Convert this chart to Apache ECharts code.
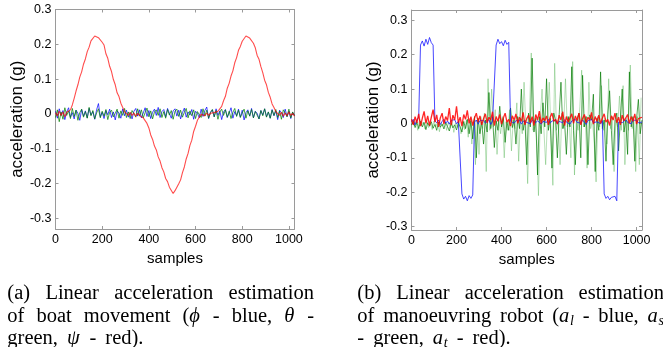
<!DOCTYPE html>
<html><head><meta charset="utf-8">
<script src="https://cdn.jsdelivr.net/npm/echarts@6/dist/echarts.min.js"></script>
<style>html,body{margin:0;padding:0;background:#fff}#c{width:663px;height:347px}</style>
</head><body><div id="c"></div>
<script>
// ---- data (values in g, one value every SAMPLE_STEP samples) ----
const SAMPLE_STEP = 8;
const RAW_OFFSET = 4;               // raw a_s samples sit between the filtered ones
const xTickValues = [0, 200, 400, 600, 800, 1000];
const yTickValues = [-0.3, -0.2, -0.1, 0, 0.1, 0.2, 0.3];

// (a) boat movement
const boatPhi = [ // blue
 .008,-.012,.015,-.004,.010,-.016,.006,.018,-.009,.004,
 -.014,.011,.002,-.018,.013,-.006,.009,-.011,.016,-.003,
 .007,-.015,.012,.030,-.008,.005,-.013,.010,-.002,.014,
 -.010,.006,-.017,.009,.003,-.012,.015,-.005,.011,-.009,
 .004,-.014,.008,.016,-.006,.012,-.011,.003,.018,-.007,
 .010,-.013,.005,.014,-.004,.019,-.010,.007,.013,-.008,
 .016,.002,-.012,.009,.015,-.006,.011,-.014,.004,.017,
 -.009,.006,-.003,.013,-.015,.008,.002,-.011,.014,-.007,
 .010,.020,-.013,.005,.012,-.008,.015,-.004,.009,-.016,
 .006,.013,-.010,.003,.018,-.012,.007,-.005,.014,-.009,
 .011,-.017,.004,.012,-.006,.016,-.011,.008,.002,-.014,
 .010,-.003,.015,-.008,.006,-.012,.013,-.005,.009,-.016,
 .011,.004,-.010,.014,-.007,.008,-.013,.005,-.004];
const boatTheta = [ // green
 -.010,.012,-.022,.006,-.015,.018,-.004,.009,-.013,.016,
 -.007,.011,-.018,.004,.014,-.009,.007,-.012,.019,-.005,
 .010,-.014,.003,.015,-.011,.008,-.006,.013,-.016,.005,
 .011,-.008,.002,.014,-.012,.009,-.004,.016,-.010,.006,
 -.013,.010,.001,-.009,.015,-.006,.012,-.011,.004,.017,
 -.008,.009,-.014,.006,.012,-.004,.015,-.010,.007,-.012,
 .013,-.003,.010,-.015,.008,.014,-.007,.011,-.009,.005,
 .016,-.011,.009,-.005,.012,-.013,.007,.003,-.010,.015,
 -.006,.011,-.012,.004,.013,-.008,.010,-.015,.006,.014,
 -.004,.012,-.009,.008,-.013,.005,.016,-.007,.011,-.010,
 .003,.014,-.012,.009,-.006,.013,-.011,.007,.002,-.014,
 .010,-.005,.015,-.009,.006,-.012,.011,-.004,.013,-.010,
 .008,-.015,.012,.003,-.008,.014,-.011,.006,-.005];
const boatPsi = [ // red
 .004,-.006,.008,-.004,.006,-.008,.005,.002,.012,.026,
 .045,.066,.084,.106,.121,.143,.158,.179,.192,.210,
 .214,.224,.225,.219,.220,.206,.198,.173,.160,.137,
 .122,.099,.084,.061,.050,.031,.019,.006,.003,-.004,
 .005,-.004,.003,-.006,.002,-.004,-.006,-.011,-.015,-.027,
 -.040,-.060,-.073,-.092,-.103,-.123,-.135,-.154,-.166,-.185,
 -.194,-.210,-.215,-.228,-.220,-.216,-.200,-.189,-.168,-.152,
 -.129,-.113,-.090,-.075,-.050,-.035,-.018,-.009,-.001,.004,
 -.005,.003,-.004,.002,-.003,.004,.002,.008,.015,.022,
 .038,.051,.074,.088,.109,.124,.147,.162,.183,.194,
 .209,.213,.224,.227,.218,.216,.203,.190,.168,.157,
 .136,.119,.097,.084,.062,.048,.029,.019,.007,.003,
 -.004,.005,-.006,.003,-.005,.006,-.004,.002,-.006];

// (b) manoeuvring robot
const robotAl = [ // blue
 .005,.012,-.004,.010,.018,.228,.240,.225,.245,.230,
 .250,.235,.228,.008,.002,.010,-.003,.006,.012,.001,
 .007,-.002,.009,.004,.011,-.001,.006,.003,-.205,-.220,
 -.212,-.225,-.210,-.218,-.208,.004,.010,-.002,.008,.003,
 .009,.001,.006,.011,-.003,.007,.002,.228,.245,.232,
 .238,.226,.242,.230,.236,.006,.010,.001,.008,.004,
 .009,-.002,.007,.012,.003,.008,-.001,.010,.005,.002,
 .008,.011,-.002,.006,.009,.003,.012,.001,.007,.004,
 .010,-.001,.006,.008,.002,.011,.004,.009,-.002,.007,
 .005,.012,.003,.008,.001,.010,.006,-.003,.009,.004,
 .011,.002,.007,.005,.010,-.001,.008,-.205,-.218,-.212,
 -.222,-.215,-.220,-.212,-.225,.004,.009,.002,.007,.011,
 .003,.008,-.001,.010,.005,.009,.002,.007,.004];
const robotAs = [ // green (filtered)
 -.005,.008,-.012,.004,-.015,.006,-.010,.003,-.018,.002,
 -.008,.005,-.014,-.003,-.020,.004,-.011,-.002,-.016,.003,
 -.009,-.022,.001,-.013,-.004,-.019,.002,-.010,-.025,.006,
 -.015,.012,-.030,.008,-.045,.020,-.100,.015,-.030,.005,
 -.060,.010,-.025,.090,-.015,.020,-.070,.008,-.020,.050,
 -.010,.015,-.055,.005,-.020,.045,-.012,.010,-.060,.020,
 -.015,.100,-.020,.010,-.120,.030,-.010,.190,-.025,.015,
 -.150,.020,-.030,.060,-.010,.130,-.020,.015,-.130,.030,
 .010,-.100,.025,.120,-.015,.005,-.090,.020,-.010,.165,
 -.020,-.120,.015,.030,-.100,.140,-.010,.020,-.120,.025,
 .010,.085,-.140,.015,-.020,.150,-.015,.010,-.110,.025,
 .095,-.020,-.120,.010,.030,-.080,.015,.100,-.025,.010,
 -.090,.150,-.010,.020,-.110,.015,.070,-.030,.010];
const robotAsRaw = [ // green (raw, lighter)
 .010,-.008,.006,-.020,.012,-.006,.004,-.016,.009,-.012,
 .002,-.018,.007,-.010,.005,-.024,.003,-.008,.010,-.020,
 .004,-.014,.008,-.026,.002,-.012,.006,-.030,.004,-.018,
 .010,-.040,.015,-.060,.005,-.120,.010,-.090,.020,-.015,
 .030,-.140,.130,-.020,.100,-.010,.040,-.090,.010,-.030,
 .020,-.100,.005,-.020,.040,-.080,.010,-.015,.060,-.110,
 .015,-.030,.120,-.010,-.175,.020,.205,-.020,.010,-.040,
 -.210,.020,.100,-.015,-.120,.010,.120,-.030,-.180,.175,
 -.020,.010,-.120,.030,-.015,.130,-.010,.020,-.100,.180,
 -.150,.010,-.020,.050,.155,-.010,.020,-.130,.120,-.015,
 .010,-.060,-.170,.020,-.010,.110,-.020,.015,-.060,.130,
 -.015,.020,-.140,.010,-.010,.080,-.020,.110,-.120,.015,
 -.020,.170,-.015,.010,-.140,.020,-.120,.075];
const robotAt = [ // red
 .012,-.004,.020,.002,.028,-.008,.015,.035,.000,.022,
 -.006,.018,.040,.004,.025,-.010,.016,.030,-.002,.020,
 .008,.045,-.005,.024,.010,.050,.002,.018,-.008,.026,
 .012,.038,.000,.020,-.006,.016,.030,.004,.022,-.004,
 .014,.028,.002,.018,.010,.034,-.006,.020,.006,.026,
 -.002,.016,.030,.004,.012,-.008,.022,.010,.028,.000,
 .018,.006,.032,-.004,.014,.024,.002,.020,-.006,.026,
 .010,.036,.000,.016,.008,.022,-.004,.018,.030,.006,
 .012,-.002,.024,.010,.034,-.006,.020,.004,.016,.028,
 .000,.022,.008,.030,-.004,.014,.026,.002,.018,.010,
 .032,-.002,.020,.006,.024,.000,.016,.028,.004,.012,
 -.006,.022,.010,.030,.002,.018,-.004,.024,.008,.016,
 .026,.000,.020,.006,.028,-.002,.014,.010,.018];

// ---- captions: words made of pieces [text, kind]  kind: r roman, i italic, s subscript ----
const captionA = [
  [[['(a)']], [['Linear']], [['acceleration']], [['estimation']]],
  [[['of']], [['boat']], [['movement']], [['('], ['ϕ', 'i']], [['-']], [['blue,']], [['θ', 'i']], [['-']]],
  [[['green,']], [['ψ', 'i']], [['-']], [['red).']]]
];
const captionB = [
  [[['(b)']], [['Linear']], [['acceleration']], [['estimation']]],
  [[['of']], [['manoeuvring']], [['robot']], [['('], ['a', 'i'], ['l', 's']], [['-']], [['blue,']], [['a', 'i'], ['s', 's']]],
  [[['-']], [['green,']], [['a', 'i'], ['t', 's']], [['-']], [['red).']]]
];

// ---- chart ----
const AX = '#9a9a9a';
const SANS = '"Liberation Sans", Arial, sans-serif';
const SERIF = '"Liberation Serif", "Times New Roman", serif';
const CAP_FS = 20.5, SUB_FS = 14;
const pts = (arr, off) => arr.map((v, i) => [i * SAMPLE_STEP + (off || 0), v]);
const fmtY = v => (Math.abs(v) < 1e-9 ? '0' : v.toFixed(1));

function xAxes(g) {
  const base = {gridIndex: g, type: 'value', min: 0, max: 1024, splitLine: {show: false},
    axisLine: {show: true, onZero: false, lineStyle: {color: AX, width: 1}},
    axisTick: {show: true, inside: true, length: 3, customValues: xTickValues, lineStyle: {color: AX}}};
  return [
    Object.assign({}, base, {position: 'bottom',
      axisLabel: {customValues: xTickValues, formatter: v => String(v), color: '#000', fontSize: 12.5, fontFamily: SANS, margin: 4},
      name: 'samples', nameLocation: 'middle', nameGap: 13,
      nameTextStyle: {fontSize: 15, color: '#000', fontFamily: SANS}}),
    Object.assign({}, base, {position: 'top', axisLabel: {show: false}})
  ];
}
function yAxes(g, mn, mx) {
  const base = {gridIndex: g, type: 'value', min: mn, max: mx, splitLine: {show: false},
    axisLine: {show: true, onZero: false, lineStyle: {color: AX, width: 1}},
    axisTick: {show: true, inside: true, length: 3, customValues: yTickValues, lineStyle: {color: AX}}};
  return [
    Object.assign({}, base, {position: 'left',
      axisLabel: {customValues: yTickValues, formatter: fmtY, color: '#000', fontSize: 12.5, fontFamily: SANS, margin: 4},
      name: 'acceleration (g)', nameLocation: 'middle', nameGap: 23,
      nameTextStyle: {fontSize: 17, color: '#000', fontFamily: SANS}}),
    Object.assign({}, base, {position: 'right', axisLabel: {show: false}})
  ];
}
function line(data, xi, yi, color, width, opacity) {
  return {type: 'line', xAxisIndex: xi, yAxisIndex: yi, data: data, symbol: 'none', showSymbol: false,
    silent: true, animation: false, clip: true,
    lineStyle: {color: color, width: width, opacity: opacity}};
}

const mctx = document.createElement('canvas').getContext('2d');
function pieceFont(k) {
  const sub = k === 's';
  return ((k === 'i' || sub) ? 'italic ' : '') + (sub ? SUB_FS : CAP_FS) + 'px ' + SERIF;
}
function pieceWidth(p) { mctx.font = pieceFont(p[1]); return mctx.measureText(p[0]).width + (p[1] === 'i' ? 0.8 : 0); }
// lay a caption block out: first lines justified between x0 and x1, last line with spaces of `lastGap`
function caption(lines, x0, x1, yMid, lineStep, lastGap) {
  const els = [];
  lines.forEach((words, li) => {
    const wW = words.map(w => w.reduce((s, p) => s + pieceWidth(p), 0));
    const total = wW.reduce((a, b) => a + b, 0);
    const last = li === lines.length - 1;
    const gap = last ? lastGap : (x1 - x0 - total) / (words.length - 1);
    let x = x0;
    const y = yMid + li * lineStep;
    words.forEach((w, wi) => {
      w.forEach(p => {
        const sub = p[1] === 's';
        els.push({type: 'text', x: x, y: y + (sub ? 4.5 : 0), silent: true,
          style: {text: p[0], fill: '#000', fontFamily: SERIF, fontSize: sub ? SUB_FS : CAP_FS,
            fontStyle: (p[1] === 'i' || sub) ? 'italic' : 'normal', align: 'left', verticalAlign: 'middle'}});
        x += pieceWidth(p);
      });
      x += gap;
    });
  });
  return els;
}

const chart = echarts.init(document.getElementById('c'), null, {renderer: 'canvas'});
chart.setOption({
  animation: false,
  backgroundColor: '#fff',
  grid: [
    {left: 55.5, top: 9.5, width: 239, height: 219.5, containLabel: false},
    {left: 411.5, top: 10, width: 230.5, height: 220, containLabel: false}
  ],
  xAxis: [...xAxes(0), ...xAxes(1)],
  yAxis: [...yAxes(0, -0.33, 0.30), ...yAxes(1, -0.31, 0.33)],
  series: [
    line(pts(boatPhi), 0, 0, '#0000ff', 0.9, 0.8),
    line(pts(boatTheta), 0, 0, '#008000', 0.9, 0.8),
    line(pts(boatPsi), 0, 0, '#ff0000', 1.1, 0.7),
    line(pts(robotAsRaw, RAW_OFFSET), 2, 2, '#5cb85c', 0.8, 0.55),
    line(pts(robotAs), 2, 2, '#007a00', 0.8, 0.85),
    line(pts(robotAl), 2, 2, '#1a1aff', 1, 0.8),
    line(pts(robotAt), 2, 2, '#ff0000', 1.3, 0.85)
  ],
  graphic: [
    ...caption(captionA, 7.3, 314, 294, 22.5, 9),
    ...caption(captionB, 357.3, 664, 294, 22.5, 9)
  ]
});
</script></body></html>
